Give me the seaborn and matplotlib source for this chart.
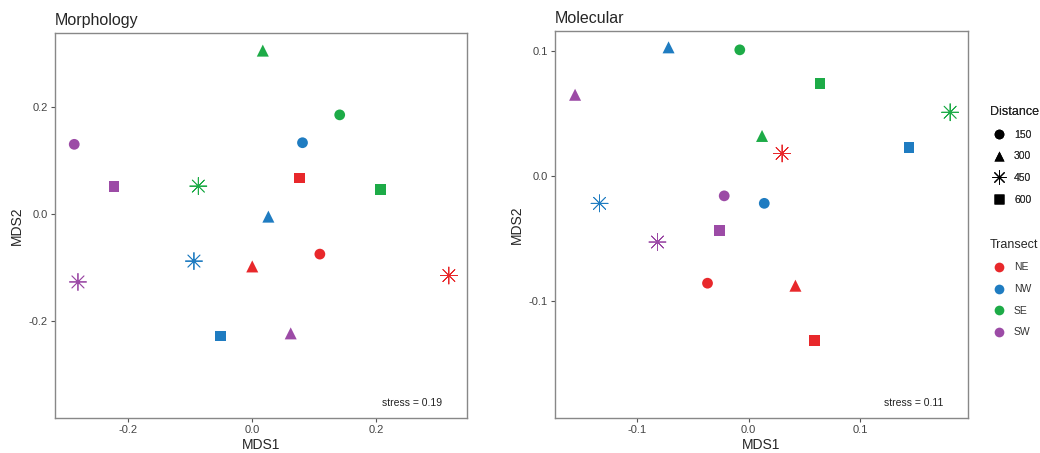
import numpy as np
import pandas as pd
import matplotlib
matplotlib.use("Agg")
import matplotlib.pyplot as plt
from matplotlib.lines import Line2D
import seaborn as sns

# Données NMDS (ordre: NE, NW, SE, SW x 150, 300, 450, 600)
transects = ["NE", "NW", "SE", "SW"]
distances = ["150", "300", "450", "600"]

morph_mds1 = [0.109, 0.000, 0.317, 0.076,
              0.081, 0.026, -0.094, -0.051,
              0.141, 0.017, -0.087, 0.207,
              -0.287, 0.062, -0.281, -0.223]
morph_mds2 = [-0.075, -0.098, -0.115, 0.067,
              0.133, -0.005, -0.088, -0.228,
              0.185, 0.305, 0.052, 0.045,
              0.130, -0.223, -0.127, 0.051]

mol_mds1 = [-0.037, 0.042, 0.030, 0.059,
            0.014, -0.072, -0.134, 0.144,
            -0.008, 0.012, 0.181, 0.064,
            -0.022, -0.156, -0.082, -0.026]
mol_mds2 = [-0.086, -0.088, 0.018, -0.132,
            -0.022, 0.103, -0.022, 0.023,
            0.101, 0.032, 0.051, 0.074,
            -0.016, 0.065, -0.053, -0.044]

stress_values = ["0.19", "0.11"]
panel_titles = ["Morphology", "Molecular"]

palette = {"NE": "#E8282B", "NW": "#1F7CC1", "SE": "#1DAB47", "SW": "#9C4BA6"}
markers = {"150": "o", "300": "^", "450": (8, 2, 0), "600": "s"}
sizes = {"150": 60, "300": 75, "450": 150, "600": 60}


def make_df(x, y):
    return pd.DataFrame({
        "MDS1": x,
        "MDS2": y,
        "Transect": np.repeat(transects, len(distances)),
        "Distance": distances * len(transects),
    })


sns.set_style("white")
plt.rcParams["font.family"] = ["Liberation Sans", "DejaVu Sans"]

fig = plt.figure(figsize=(10.4, 4.53), dpi=100)
ax1 = fig.add_axes([0.0529, 0.0773, 0.396, 0.850])
ax2 = fig.add_axes([0.5337, 0.0773, 0.397, 0.854])

panels = [
    (ax1, make_df(morph_mds1, morph_mds2), (-0.318, 0.346), (-0.381, 0.338), [-0.2, 0.0, 0.2]),
    (ax2, make_df(mol_mds1, mol_mds2), (-0.174, 0.197), (-0.194, 0.116), [-0.1, 0.0, 0.1]),
]

for i, (ax, df, xlim, ylim, ticks) in enumerate(panels):
    for d in distances:
        sub = df[df["Distance"] == d]
        if d == "450":
            sns.scatterplot(data=sub, x="MDS1", y="MDS2", hue="Transect", palette=palette,
                            marker=markers[d], s=sizes[d], linewidth=0.6, legend=False, ax=ax)
        else:
            sns.scatterplot(data=sub, x="MDS1", y="MDS2", hue="Transect", palette=palette,
                            marker=markers[d], s=sizes[d], edgecolor="none", legend=False, ax=ax)
    ax.set_xlim(*xlim)
    ax.set_ylim(*ylim)
    ax.set_xticks(ticks)
    ax.set_yticks(ticks)
    ax.set_xticklabels([f"{t:.1f}" for t in ticks])
    ax.set_yticklabels([f"{t:.1f}" for t in ticks])
    ax.tick_params(axis="both", which="both", length=3, width=0.8, color="#555555",
                   labelsize=8, labelcolor="#444444", direction="out", bottom=True, left=True, pad=2)
    for sp in ax.spines.values():
        sp.set_color("#888888")
        sp.set_linewidth(1.0)
    ax.set_xlabel("MDS1", fontsize=10, labelpad=2)
    ax.set_ylabel("MDS2", fontsize=10, labelpad=4)
    ax.set_title(panel_titles[i], loc="left", fontsize=11.5, pad=6)
    ax.text(0.94, 0.04, "stress = " + stress_values[i], transform=ax.transAxes,
            ha="right", va="center", fontsize=7.5, color="#222222")

# Légende à droite
dist_handles = []
for d in distances:
    m = markers[d]
    if d == "450":
        dist_handles.append(Line2D([], [], linestyle="none", marker=m, markersize=10,
                                   markeredgecolor="black", markeredgewidth=0.6, label=d))
    else:
        dist_handles.append(Line2D([], [], linestyle="none", marker=m, markersize=7,
                                   markerfacecolor="black", markeredgecolor="none", label=d))
tr_handles = [Line2D([], [], linestyle="none", marker="o", markersize=7,
                     markerfacecolor=palette[t], markeredgecolor="none", label=t) for t in transects]

legend_kw = dict(loc="upper left", frameon=False, fontsize=7.5, title_fontsize=9,
                 handletextpad=0.5, labelspacing=1.12, alignment="left",
                 borderaxespad=0, handlelength=1.8, labelcolor="#333333")
leg1 = fig.legend(handles=dist_handles, title="Distance",
                  bbox_to_anchor=(0.948, 0.775), **legend_kw)
leg2 = fig.legend(handles=tr_handles, title="Transect",
                  bbox_to_anchor=(0.948, 0.482), **legend_kw)
fig.add_artist(leg1)

fig.savefig("out.png", dpi=100)
